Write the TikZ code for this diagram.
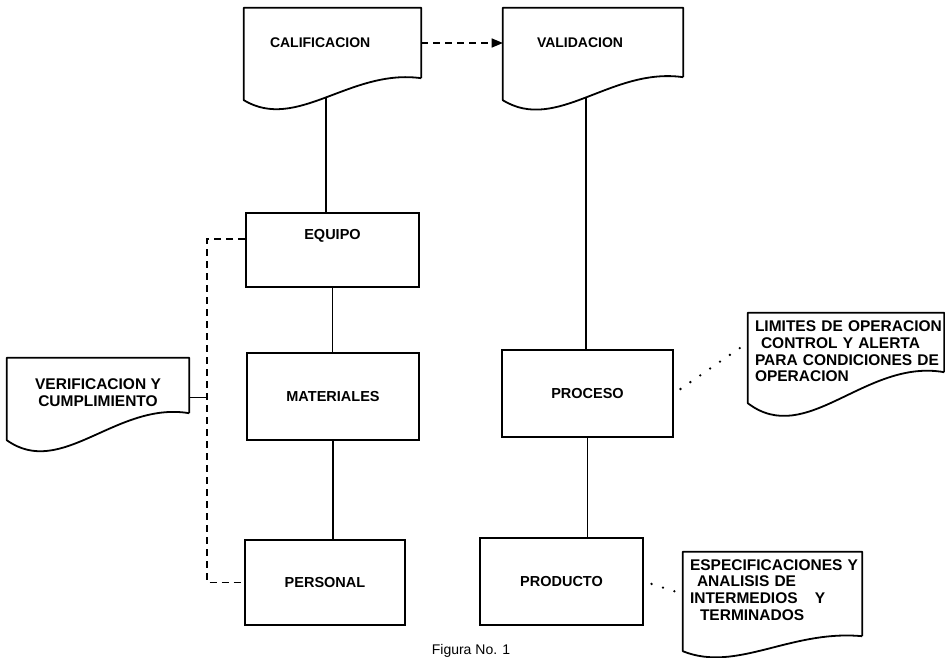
\documentclass[tikz,border=0pt]{standalone}
\usepackage{fontspec}
\setmainfont{Liberation Sans}
\usetikzlibrary{arrows, calc}

\begin{document}
\begin{tikzpicture}[x=1pt, y=1pt]
% Define styles
\tikzstyle{box} = [rectangle, draw, line width=1.8pt, minimum height=87pt, font=\fontsize{14.5}{16}\selectfont\bfseries]
\tikzstyle{doc} = [rectangle, inner sep=0pt, align=left, font=\fontsize{14}{16}\selectfont\bfseries]
\tikzstyle{doctext} = [inner sep=0pt, font=\fontsize{15.5}{16.7}\selectfont\bfseries]
\tikzstyle{link} = [line width=1.5pt]
\tikzstyle{dashlink} = [line width=1.6pt, dash pattern=on 7pt off 5pt]
\tikzstyle{dotlink} = [line width=2.6pt, line cap=round, dash pattern=on 0pt off 12pt, shorten <=8pt, shorten >=5pt]
\tikzstyle{arrow} = [dashlink, ->, >=triangle 45]

\useasboundingbox (0,0) rectangle (945,-658);

% Documents
\node (calif) [doc, minimum width=177pt, minimum height=70pt, inner xsep=26pt, text width=125pt] at (332.5,-43) {CALIFICACION};
\node (valid) [doc, minimum width=180pt, minimum height=69pt, inner xsep=34pt, text width=112pt] at (593,-42.5) {VALIDACION};
\node (verif) [doc, minimum width=182pt, minimum height=55pt,
  label={[doctext, align=center, yshift=-7pt]center:{VERIFICACION Y\\CUMPLIMIENTO}}] at (98,-385.5) {};
\node (limites) [doc, minimum width=196pt, minimum height=59pt,
  label={[doctext, align=left, text width=190pt, xshift=4pt, yshift=-9pt]center:{LIMITES DE OPERACION\\\hspace*{6pt}CONTROL Y ALERTA\\PARA CONDICIONES DE\\OPERACION}}] at (846,-342.5) {};
\node (espec) [doc, minimum width=179pt, minimum height=84pt,
  label={[doctext, align=left, text width=172pt, xshift=3.5pt, yshift=4pt]center:{ESPECIFICACIONES Y\\\hspace*{7pt}ANALISIS DE\\INTERMEDIOS\hspace*{12pt} Y\\\hspace*{10pt}TERMINADOS}}] at (772.5,-594) {};

% Boxes
\node (equipo) [box, minimum width=173pt, minimum height=74pt, text depth=32pt] at (332.5,-250) {EQUIPO};
\node (materiales) [box, minimum width=172pt] at (333,-396.5) {MATERIALES};
\node (personal) [box, minimum width=160pt, minimum height=85pt] at (325,-582.5) {PERSONAL};
\node (proceso) [box, minimum width=171pt] at (587.5,-393.5) {PROCESO};
\node (producto) [box, minimum width=163pt] at (561.5,-581.5) {PRODUCTO};

\node (caption) [anchor=base, font=\fontsize{14}{16}\selectfont] at (471,-654) {Figura No. 1};

% Document outlines with wavy bottom
\foreach \n/\d in {calif/22, valid/23, verif/27, limites/31, espec/15}
  \draw[line width=1.8pt, line join=round] (\n.south east) -- (\n.north east) -- (\n.north west) -- ($(\n.south west)+(0,-\d)$)
    .. controls ($(\n.south west)!0.3!(\n.south east)+(0,-2.45*\d)$) and ($(\n.south west)!0.6!(\n.south east)+(0,0.45*\d)$) .. coordinate[pos=0.5] (\n-wave) (\n.south east);

% Connectors
\draw[arrow] (calif.east) -- (calif.east -| valid.west);
\draw[link] (calif-wave) -- (calif-wave |- equipo.north);
\draw[link] (equipo.south) -- (equipo.south |- materiales.north);
\draw[link] (materiales.south) -- (materiales.south |- personal.north);
\draw[link] (valid-wave) -- (valid-wave |- proceso.north);
\draw[link] (proceso.south) -- (proceso.south |- producto.north);
\draw[dotlink] (proceso.east) -- (limites.west);
\draw[dotlink] (producto.east) -- (espec.west);

\coordinate (spine) at ($(equipo.base west)+(-38,0)$);
\draw[dashlink] (equipo.base west) -- (spine) |- (personal.west);
\draw[link] ([yshift=-12pt]verif.east) -- ([yshift=-12pt]verif.east -| spine);
\end{tikzpicture}
\end{document}
